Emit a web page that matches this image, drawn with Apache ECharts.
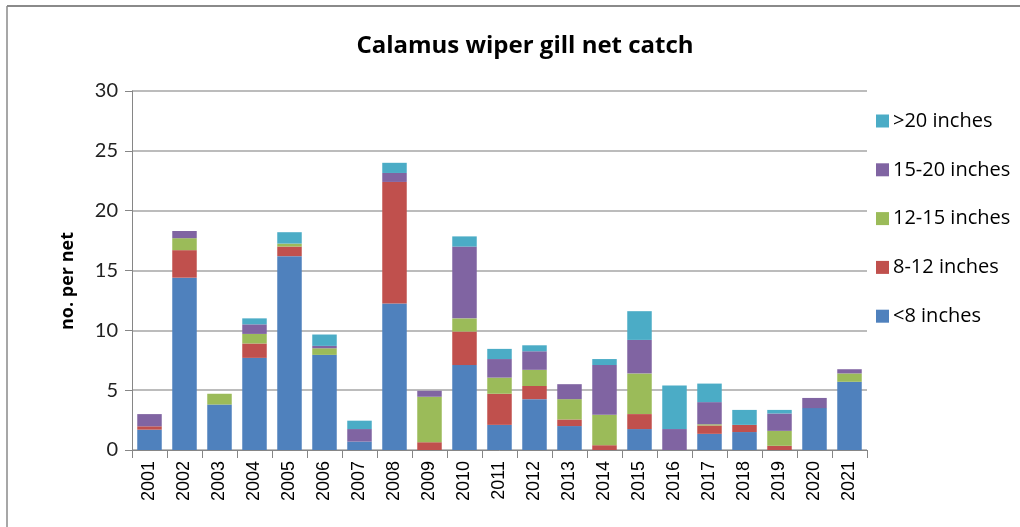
<!DOCTYPE html>
<html>
<head>
<meta charset="utf-8">
<script src="https://cdn.jsdelivr.net/npm/echarts@6/dist/echarts.min.js"></script>
<style>
  html, body { margin: 0; padding: 0; background: #fff; }
  #chart { width: 1020px; height: 527px; }
</style>
</head>
<body>
<div id="chart"></div>
<script>
// Survey years
const years = ['2001','2002','2003','2004','2005','2006','2007','2008','2009','2010','2011',
               '2012','2013','2014','2015','2016','2017','2018','2019','2020','2021'];

// Catch per net by length group
const under8   = [1.7, 14.4, 3.8, 7.7, 16.2, 7.95, 0.7, 12.25, 0,    7.1, 2.1, 4.25, 2.0, 0,    1.75, 0,    1.35, 1.5, 0,    3.5, 5.7];
const in8to12  = [0.28, 2.3, 0,   1.2, 0.8,  0,    0,   10.15, 0.65, 2.8, 2.6, 1.1,  0.55, 0.4, 1.25, 0,    0.7,  0.6, 0.35, 0,   0];
const in12to15 = [0,    1.0, 0.9, 0.8, 0.25, 0.55, 0,   0,     3.8,  1.1, 1.35, 1.35, 1.7, 2.55, 3.4, 0,    0.1,  0,   1.25, 0,   0.7];
const in15to20 = [1.02, 0.6, 0,   0.8, 0,    0.2,  1.05, 0.75, 0.5,  6.0, 1.55, 1.55, 1.25, 4.15, 2.8, 1.75, 1.85, 0,   1.45, 0.85, 0.35];
const over20   = [0,    0,   0,   0.5, 0.95, 0.95, 0.7, 0.85,  0,    0.85, 0.85, 0.5, 0,   0.5,  2.4, 3.65, 1.55, 1.25, 0.3, 0,   0];

// Axis ticks
const yTicks = { min: 0, max: 30, interval: 5 };

const groups = [
  { name: '<8 inches',    data: under8,   color: '#4F81BD' },
  { name: '8-12 inches',  data: in8to12,  color: '#C0504D' },
  { name: '12-15 inches', data: in12to15, color: '#9BBB59' },
  { name: '15-20 inches', data: in15to20, color: '#8064A2' },
  { name: '>20 inches',   data: over20,   color: '#4BACC6' }
];

const chart = echarts.init(document.getElementById('chart'));

chart.setOption({
  animation: false,
  backgroundColor: '#ffffff',
  title: {
    text: 'Calamus wiper gill net catch',
    left: 520,
    textAlign: 'center',
    top: 29,
    textStyle: { fontFamily: 'Open Sans', fontWeight: 'bold', fontSize: 24, color: '#000' }
  },
  legend: {
    orient: 'vertical',
    left: 871,
    top: 106,
    itemWidth: 13,
    itemHeight: 13,
    itemGap: 28.8,
    icon: 'rect',
    data: ['>20 inches', '15-20 inches', '12-15 inches', '8-12 inches', '<8 inches'],
    textStyle: { fontFamily: 'Open Sans', fontSize: 20, color: '#000', padding: [0, 0, 0, -1] }
  },
  grid: { left: 132, right: 153, top: 91, bottom: 77 },
  xAxis: {
    type: 'category',
    data: years,
    axisLine: { lineStyle: { color: '#868686', width: 1 } },
    axisTick: { show: true, alignWithLabel: false, length: 8, lineStyle: { color: '#868686' } },
    axisLabel: {
      rotate: 90,
      interval: 0,
      margin: 11,
      fontFamily: 'Liberation Sans',
      fontSize: 18,
      color: '#000'
    }
  },
  yAxis: {
    type: 'value',
    min: yTicks.min,
    max: yTicks.max,
    interval: yTicks.interval,
    axisLine: { show: true, lineStyle: { color: '#868686', width: 1 } },
    axisTick: { show: true, length: 7, lineStyle: { color: '#868686' } },
    splitLine: { lineStyle: { color: '#a6a6a6', width: 1.5 } },
    axisLabel: { fontFamily: 'Lato', fontSize: 20, color: '#222', margin: 14 }
  },
  series: groups.map(g => ({
    name: g.name,
    type: 'bar',
    stack: 'catch',
    barWidth: '70%',
    data: g.data,
    itemStyle: { color: g.color }
  })),
  graphic: [
    { type: 'line', shape: { x1: 7, y1: 6, x2: 1020, y2: 6 }, style: { stroke: '#8a8a8a', lineWidth: 2 } },
    { type: 'line', shape: { x1: 7, y1: 6, x2: 7, y2: 527 }, style: { stroke: '#8a8a8a', lineWidth: 1.5 } },
    // y-axis title, rotated to read bottom-to-top
    {
      type: 'text',
      x: 68,
      y: 281,
      rotation: Math.PI / 2,
      style: {
        text: 'no. per net',
        fontFamily: 'Open Sans',
        fontWeight: 'bold',
        fontSize: 18,
        fill: '#000',
        align: 'center',
        verticalAlign: 'middle'
      }
    }
  ]
});
</script>
</body>
</html>
